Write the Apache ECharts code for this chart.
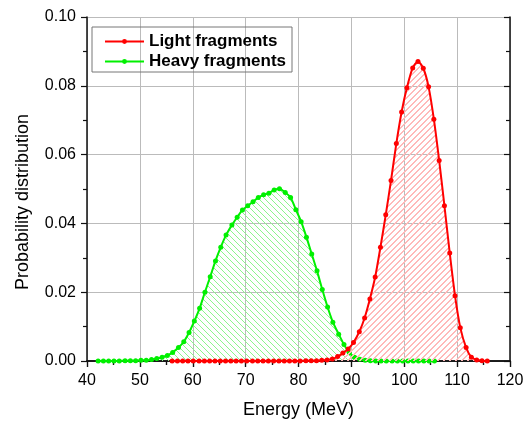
<!DOCTYPE html>
<html>
<head>
<meta charset="utf-8">
<script src="https://cdn.jsdelivr.net/npm/echarts@6/dist/echarts.min.js"></script>
<style>
  html, body { margin: 0; padding: 0; background: #fff; }
  #chart { width: 523px; height: 421px; }
</style>
</head>
<body>
<div id="chart"></div>
<script>
// energies (MeV) of each point
var heavyEnergy = [42.1, 43.1, 44.1, 45.1, 46.1, 47.2, 48.2, 49.2, 50.2, 51.2, 52.2, 53.2, 54.2, 55.2, 56.2, 57.3,
  58.3, 59.3, 60.3, 61.3, 62.3, 63.3, 64.3, 65.3, 66.3, 67.4, 68.4, 69.4, 70.4, 71.4, 72.4, 73.4,
  74.4, 75.4, 76.4, 77.5, 78.5, 79.5, 80.5, 81.5, 82.5, 83.5, 84.5, 85.5, 86.5, 87.6, 88.6, 89.6,
  90.6, 91.6, 92.6, 93.6, 94.6, 95.6, 96.6, 97.7, 98.7, 99.7, 100.7, 101.7, 102.7, 103.7, 104.7, 105.7]
var heavyProb = [0, 0, 0, 0, 0, 0.0001, 0.0001, 0.0001, 0.0002, 0.0002, 0.0004, 0.0007, 0.0011, 0.0016, 0.0025, 0.0039,
  0.0056, 0.0083, 0.0116, 0.0153, 0.0200, 0.0245, 0.0291, 0.0331, 0.0366, 0.0395, 0.0418, 0.0439, 0.0451, 0.0463, 0.0475, 0.0483,
  0.0488, 0.0497, 0.0501, 0.0490, 0.0475, 0.0440, 0.0405, 0.0360, 0.0311, 0.0262, 0.0208, 0.0157, 0.0113, 0.0078, 0.0048, 0.0024,
  0.0011, 0.0005, 0.0002, 0.0001, 0, 0, 0, 0, 0, 0, 0, 0, 0, 0, 0, 0]

var lightEnergy = [56.1, 57.1, 58.1, 59.1, 60.1, 61.2, 62.2, 63.2, 64.2, 65.2, 66.2, 67.2, 68.2, 69.2, 70.2,
  71.3, 72.3, 73.3, 74.3, 75.3, 76.3, 77.3, 78.3, 79.3, 80.3, 81.4, 82.4, 83.4, 84.4, 85.4,
  86.4, 87.4, 88.4, 89.4, 90.4, 91.5, 92.5, 93.5, 94.5, 95.5, 96.5, 97.5, 98.5, 99.5, 100.5,
  101.6, 102.6, 103.6, 104.6, 105.6, 106.6, 107.6, 108.6, 109.6, 110.6, 111.7, 112.7, 113.7, 114.7, 115.7]
var lightProb = [0, 0, 0, 0, 0, 0, 0, 0, 0, 0, 0, 0, 0, 0, 0,
  0, 0, 0, 0, 0, 0, 0, 0, 0, 0, 0.0001, 0.0001, 0.0001, 0.0002, 0.0003,
  0.0006, 0.0013, 0.0023, 0.0035, 0.0054, 0.0085, 0.0125, 0.0180, 0.0244, 0.0331, 0.0425, 0.0525, 0.0632, 0.0724, 0.0794,
  0.0852, 0.0871, 0.0851, 0.0797, 0.0703, 0.0583, 0.0451, 0.0314, 0.0190, 0.0097, 0.0039, 0.0011, 0.0003, 0.0001, 0]

var seriesNames = ['Light fragments', 'Heavy fragments']
var yTickLabels = ['0.00', '0.02', '0.04', '0.06', '0.08', '0.10']

function pairs(xs, ys) {
  var out = []
  for (var i = 0; i < xs.length; i++) out.push([xs[i], ys[i]])
  return out
}

// hatch tile built pixel by pixel, rising = '/', otherwise '\'
function hatch(color, rising, thick) {
  var s = 6
  var c = document.createElement('canvas')
  c.width = s
  c.height = s
  var ctx = c.getContext('2d')
  ctx.fillStyle = color
  for (var y = 0; y < s; y++) {
    var x = rising ? s - 1 - y : y
    ctx.fillRect(x, y, 1, 1)
    if (thick) ctx.fillRect((x + 1) % s, y, 1, 1)
  }
  return { image: c.toDataURL(), repeat: 'repeat' }
}

var font = 'Liberation Sans, Arial, sans-serif'
var chart = echarts.init(document.getElementById('chart'))

var axisLine = { show: true, lineStyle: { color: '#111', width: 1.5 } }
var tickStyle = { color: '#111', width: 1.2 }

chart.setOption({
  animation: false,
  grid: { left: 87, right: 13, top: 17, bottom: 60, outerBoundsMode: 'none' },
  legend: {
    data: seriesNames,
    orient: 'vertical',
    left: 92,
    top: 27,
    itemWidth: 39,
    itemHeight: 6,
    itemGap: 3,
    padding: [6, 6, 2, 12],
    borderColor: '#777',
    borderWidth: 1,
    textStyle: { fontFamily: font, fontSize: 17, fontWeight: 'bold', color: '#000' }
  },
  xAxis: [{
    type: 'value',
    min: 40,
    max: 120,
    interval: 10,
    name: 'Energy (MeV)',
    nameLocation: 'middle',
    nameGap: 40,
    nameTextStyle: { fontFamily: font, fontSize: 18, color: '#000' },
    axisLine: axisLine,
    axisTick: { show: true, inside: false, length: 6, lineStyle: tickStyle },
    minorTick: { show: true, splitNumber: 2, length: 4, lineStyle: tickStyle },
    axisLabel: { fontFamily: font, fontSize: 16, color: '#000', margin: 12 },
    splitLine: { show: true, lineStyle: { color: '#bbb', width: 1 } }
  }, {
    type: 'value',
    position: 'top',
    min: 40,
    max: 120,
    interval: 10,
    axisLine: axisLine,
    axisTick: { show: true, inside: true, length: 6, lineStyle: tickStyle },
    minorTick: { show: true, splitNumber: 2, length: 4, lineStyle: tickStyle },
    axisLabel: { show: false },
    splitLine: { show: false }
  }],
  yAxis: [{
    type: 'value',
    min: 0,
    max: 0.1,
    interval: 0.02,
    name: 'Probability distribution',
    nameLocation: 'middle',
    nameGap: 55,
    nameTextStyle: { fontFamily: font, fontSize: 18, color: '#000', padding: [0, 26, 0, 0] },
    axisLine: axisLine,
    axisTick: { show: true, inside: false, length: 6, lineStyle: tickStyle },
    minorTick: { show: true, splitNumber: 2, length: 4, lineStyle: tickStyle },
    axisLabel: {
      fontFamily: font, fontSize: 16, color: '#000', margin: 11,
      formatter: function (v) { return yTickLabels[Math.round(v / 0.02)] }
    },
    splitLine: { show: true, lineStyle: { color: '#bbb', width: 1 } }
  }, {
    type: 'value',
    position: 'right',
    min: 0,
    max: 0.1,
    interval: 0.02,
    axisLine: axisLine,
    axisTick: { show: true, inside: true, length: 6, lineStyle: tickStyle },
    minorTick: { show: true, splitNumber: 2, length: 4, lineStyle: tickStyle },
    axisLabel: { show: false },
    splitLine: { show: false }
  }],
  series: [{
    name: seriesNames[0],
    type: 'line',
    z: 3,
    smooth: 0.25,
    symbol: 'circle',
    symbolSize: 5,
    color: '#ff0000',
    lineStyle: { color: '#ff0000', width: 2 },
    itemStyle: { color: '#ff0000' },
    areaStyle: { color: hatch('rgb(255,185,185)', true, true), opacity: 1 },
    data: pairs(lightEnergy, lightProb)
  }, {
    name: seriesNames[1],
    type: 'line',
    z: 2,
    smooth: 0.25,
    symbol: 'circle',
    symbolSize: 5,
    color: '#00f000',
    lineStyle: { color: '#00f000', width: 2 },
    itemStyle: { color: '#00f000' },
    areaStyle: { color: hatch('rgb(140,245,140)', false, false), opacity: 1 },
    data: pairs(heavyEnergy, heavyProb)
  }]
})
</script>
</body>
</html>
